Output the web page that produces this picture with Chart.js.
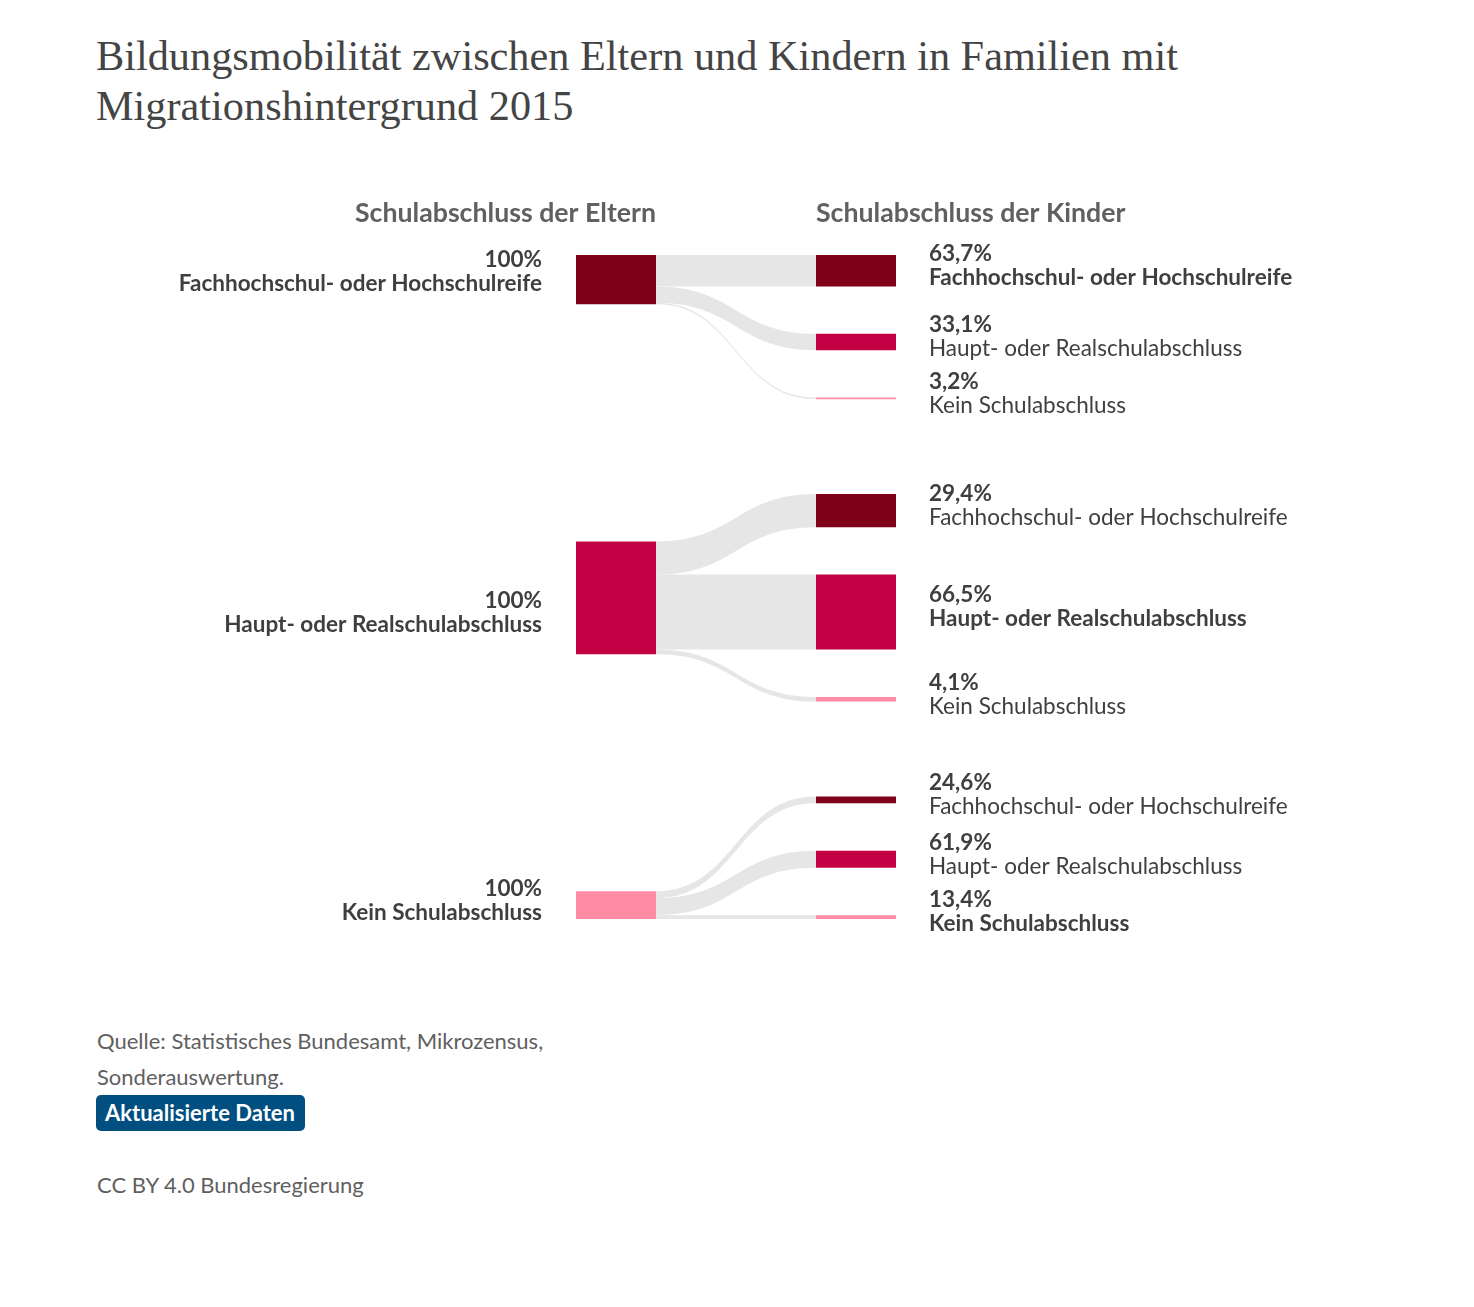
<!DOCTYPE html>
<html lang="de">
<head>
<meta charset="utf-8">
<script src="https://cdn.jsdelivr.net/npm/chart.js@4.4.1/dist/chart.umd.min.js"></script>
<style>
  html, body { margin: 0; padding: 0; background: #fff; }
  body { width: 1474px; height: 1307px; position: relative; font-family: Lato, sans-serif; color: #4a4a4a; }
  #title { position: absolute; left: 96px; top: 31px; width: 1300px; font-family: 'Liberation Serif', serif; font-size: 42.3px; line-height: 50px; color: #444; }
  #wrap { position: absolute; left: 0; top: 180px; width: 1474px; height: 780px; }
  #foot { position: absolute; left: 97px; top: 1023px; font-size: 22px; line-height: 36px; color: #5f5f5f; }
  #badge { display: inline-block; margin-left: -1px; padding: 0 10px 0 9px; height: 36px; line-height: 36px; background: #004f80; color: #fff; font-weight: bold; border-radius: 5px; }
  #cc { margin-top: 36px; }
</style>
</head>
<body>
<div id="title">Bildungsmobilität zwischen Eltern und Kindern in Familien mit<br>Migrationshintergrund 2015</div>
<div id="wrap"><canvas id="chart"></canvas></div>
<div id="foot">
  <div>Quelle: Statistisches Bundesamt, Mikrozensus,<br>Sonderauswertung.</div>
  <div><span id="badge">Aktualisierte Daten</span></div>
  <div id="cc">CC BY 4.0 Bundesregierung</div>
</div>
<script>
// Schulabschluss (Eltern und Kinder haben die gleichen Kategorien)
const categories = ['Fachhochschul- oder Hochschulreife', 'Haupt- oder Realschulabschluss', 'Kein Schulabschluss'];
const columnTitles = ['Schulabschluss der Eltern', 'Schulabschluss der Kinder'];
// relative Größe der Elterngruppen (aus den Balkenhöhen geschätzt)
const parentShares = [26.0, 59.4, 14.6];
// Abschluss der Kinder in % je Abschluss der Eltern
const kinderVonHochschulreife = [63.7, 33.1, 3.2];
const kinderVonHauptReal = [29.4, 66.5, 4.1];
const kinderVonOhne = [24.6, 61.9, 13.4];
const flows = [kinderVonHochschulreife, kinderVonHauptReal, kinderVonOhne];

const nodeColors = ['#80001a', '#c40044', '#ff8ba5'];
const linkColor = '#e6e6e6';
const textColor = '#3f3f3f';
const GAP = 25;        // Abstand zwischen Kind-Knoten (in Skaleneinheiten)
const GROUP_GAP = 50;  // Abstand zwischen den Gruppen

const fmt = v => v.toFixed(1).replace('.', ',') + '%';

// Knoten-Layout in Einheiten der y-Achse
const parents = [];
const children = [];
let y = 0;
flows.forEach((vals, g) => {
  const groupTop = y;
  const kids = vals.map((v, i) => {
    const h = parentShares[g] * v / 100;
    const n = { top: y, bottom: y + h, value: v, cat: i };
    y += h + GAP;
    return n;
  });
  y -= GAP;
  const groupBottom = y;
  const ph = parentShares[g];
  let pTop;
  if (g === 0) pTop = groupTop;
  else if (g === flows.length - 1) pTop = groupBottom - ph;
  else pTop = (groupTop + groupBottom) / 2 - ph / 2;
  parents.push({ top: pTop, bottom: pTop + ph });
  children.push(kids);
  y += GROUP_GAP;
});
const totalUnits = y - GROUP_GAP;

const datasets = [];
flows.forEach((vals, g) => {
  vals.forEach((v, i) => {
    const k = g * 3 + i;
    const kid = children[g][i];
    datasets.push({
      label: categories[g] + ' → ' + categories[i],
      data: [k < 3 ? [parents[k].top, parents[k].bottom] : null, [kid.top, kid.bottom]],
      backgroundColor: [nodeColors[k < 3 ? k : 0], nodeColors[i]],
      borderWidth: 0,
      borderSkipped: false,
      grouped: false,
      barPercentage: 1,
      categoryPercentage: 1 / 3
    });
  });
});

function barEdges(chart, dsIndex, col) {
  const el = chart.getDatasetMeta(dsIndex).data[col];
  return { left: el.x - el.width / 2, right: el.x + el.width / 2 };
}

// Band des Flusses g -> i am Elternknoten (Skaleneinheiten)
function sourceBand(g, i) {
  let s = parents[g].top;
  for (let j = 0; j < i; j++) s += parentShares[g] * flows[g][j] / 100;
  return { top: s, bottom: s + parentShares[g] * flows[g][i] / 100 };
}

const linkPlugin = {
  id: 'links',
  beforeDatasetsDraw(chart) {
    const { ctx, scales: { y: ys } } = chart;
    ctx.save();
    ctx.fillStyle = linkColor;
    flows.forEach((vals, g) => {
      vals.forEach((v, i) => {
        const kid = children[g][i];
        const band = sourceBand(g, i);
        const x0 = barEdges(chart, g, 0).right;
        const x1 = barEdges(chart, g * 3 + i, 1).left;
        const xm = (x0 + x1) / 2;
        const s0 = ys.getPixelForValue(band.top), s1 = ys.getPixelForValue(band.bottom);
        const t0 = ys.getPixelForValue(kid.top), t1 = ys.getPixelForValue(kid.bottom);
        ctx.beginPath();
        ctx.moveTo(x0, s0);
        ctx.bezierCurveTo(xm, s0, xm, t0, x1, t0);
        ctx.lineTo(x1, t1);
        ctx.bezierCurveTo(xm, t1, xm, s1, x0, s1);
        ctx.closePath();
        ctx.fill();
      });
    });
    ctx.restore();
  }
};

const labelPlugin = {
  id: 'nodeLabels',
  afterDatasetsDraw(chart) {
    const { ctx, chartArea, scales: { y: ys } } = chart;
    const bold = '700 22.5px Lato, sans-serif';
    const reg = '400 22.5px Lato, sans-serif';
    ctx.save();
    ctx.textBaseline = 'middle';
    // Spaltenüberschriften
    ctx.font = '700 26.7px Lato, sans-serif';
    ctx.fillStyle = '#606060';
    ctx.textAlign = 'right';
    ctx.fillText(columnTitles[0], barEdges(chart, 0, 0).right, chartArea.top - 42);
    ctx.textAlign = 'left';
    ctx.fillText(columnTitles[1], barEdges(chart, 0, 1).left, chartArea.top - 42);

    ctx.fillStyle = textColor;
    parents.forEach((p, g) => {
      // Beschriftung mittig am eigenen Fluss, aber nicht unter den Knoten hinaus
      const band = sourceBand(g, g);
      const bandMid = (ys.getPixelForValue(band.top) + ys.getPixelForValue(band.bottom)) / 2 + 1;
      const c = Math.min(bandMid, ys.getPixelForValue(p.bottom) - 18);
      const x = barEdges(chart, g, 0).left - 34;
      ctx.textAlign = 'right';
      ctx.font = bold;
      ctx.fillText('100%', x, c - 12);
      ctx.fillText(categories[g], x, c + 12);
    });
    children.forEach((kids, g) => {
      kids.forEach((kid, i) => {
        const c = (ys.getPixelForValue(kid.top) + ys.getPixelForValue(kid.bottom)) / 2 - 5;
        const x = barEdges(chart, g * 3 + i, 1).right + 33;
        ctx.textAlign = 'left';
        ctx.font = bold;
        ctx.fillText(fmt(kid.value), x, c - 12);
        ctx.font = i === g ? bold : reg;
        ctx.fillText(categories[i], x, c + 12);
      });
    });
    ctx.restore();
  }
};

new Chart(document.getElementById('chart'), {
  type: 'bar',
  data: { labels: columnTitles, datasets },
  options: {
    responsive: true,
    maintainAspectRatio: false,
    animation: false,
    layout: { padding: { left: 496, right: 498, top: 75, bottom: 41 } },
    plugins: { legend: { display: false }, tooltip: { enabled: false } },
    scales: {
      x: { type: 'category', display: false, offset: true },
      y: { type: 'linear', display: false, reverse: true, min: 0, max: totalUnits }
    }
  },
  plugins: [linkPlugin, labelPlugin]
});
</script>
</body>
</html>
